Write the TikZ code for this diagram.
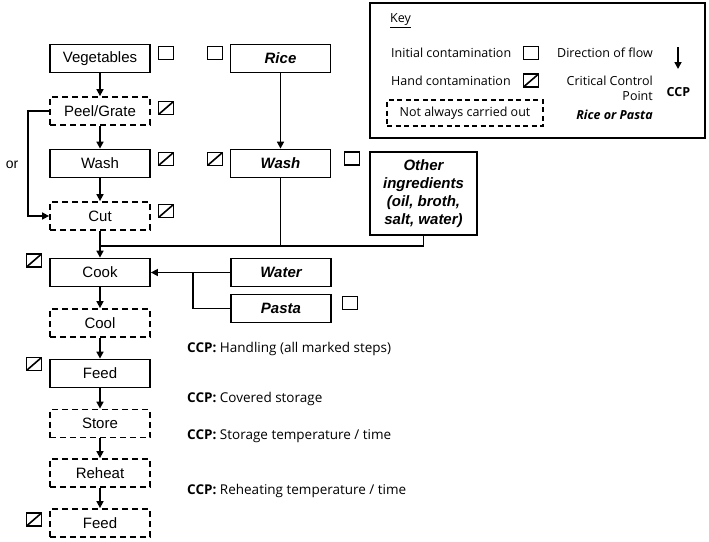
\documentclass[tikz,border=0pt]{standalone}
\usepackage{fontspec}
\setmainfont{Liberation Sans}
\newfontfamily\keyfont{Open Sans}
\usetikzlibrary{arrows.meta}
\tikzset{
  stepbox/.style={draw, line width=1.8pt, minimum width=100pt, minimum height=28pt, inner sep=0pt, font=\fontsize{15}{18}\selectfont},
  optbox/.style={stepbox, dash pattern=on 6pt off 4pt},
  ital/.style={font=\fontsize{15}{18}\selectfont\bfseries\itshape},
  initsq/.style={draw, line width=1.6pt, minimum width=15pt, minimum height=13pt, inner sep=0pt},
  handsq/.style={initsq, path picture={\draw[line width=1.6pt] (path picture bounding box.south west) -- (path picture bounding box.north east);}},
  arr/.style={line width=1.6pt, -{Triangle[length=7pt,width=7pt]}},
  ln/.style={line width=1.6pt},
  keytxt/.style={font=\keyfont\fontsize{12.5}{15}\selectfont, inner sep=0pt},
  ccptxt/.style={font=\keyfont\fontsize{13.5}{16}\selectfont, inner sep=0pt, anchor=west}
}
\begin{document}
\begin{tikzpicture}[x=1pt,y=-1pt]
\useasboundingbox (0,0) rectangle (709,541);
% left column
\node[stepbox] (veg) at (100,58.5) {Vegetables};
\node[optbox] (peel) at (100,111) {Peel/Grate};
\node[stepbox] (wash) at (100,163.5) {Wash};
\node[optbox] (cut) at (100,216) {Cut};
\node[stepbox] (cook) at (100,272.5) {Cook};
\node[optbox] (cool) at (100,323) {Cool};
\node[stepbox] (feed) at (100,373.5) {Feed};
\node[optbox] (store) at (100,423.5) {Store};
\node[optbox] (reheat) at (100,473) {Reheat};
\node[optbox] (feedb) at (100,523) {Feed};
% right column
\node[stepbox, ital] (rice) at (280.5,58.5) {Rice};
\node[stepbox, ital] (washr) at (280.5,163.5) {Wash};
\node[stepbox, ital] (water) at (281,272.5) {Water};
\node[stepbox, ital] (pasta) at (281,308.5) {Pasta};
\node[draw, line width=1.8pt, minimum width=107pt, minimum height=83pt, inner sep=0pt, align=center, ital] (other) at (423.5,193.5) {Other\\ingredients\\(oil, broth,\\salt, water)};
\node[inner sep=0pt, font=\fontsize{14}{16}\selectfont] (or) at (12,165) {or};
% squares
\node[initsq] (s1) at (166,53) {};
\node[initsq] (s2) at (215,53) {};
\node[handsq] (s3) at (166,108) {};
\node[handsq] (s4) at (166,159) {};
\node[handsq] (s5) at (215,159) {};
\node[initsq] (s6) at (352,158.5) {};
\node[handsq] (s7) at (166,211) {};
\node[initsq] (s8) at (350,303) {};
\node[handsq] (s9) at (34,260.5) {};
\node[handsq] (s10) at (34,364) {};
\node[handsq] (s11) at (34,519.5) {};
% connectors
\coordinate (j1) at (100,246);
\coordinate (j2) at (193,272.5);
\draw[arr] (veg) -- (peel);
\draw[arr] (peel) -- (wash);
\draw[arr] (wash) -- (cut);
\draw[arr] (cut) -- (cook);
\draw[arr] (cook) -- (cool);
\draw[arr] (cool) -- (feed);
\draw[arr] (feed) -- (store);
\draw[arr] (store) -- (reheat);
\draw[arr] (reheat) -- (feedb);
\draw[arr] (peel.west) -- ++(-21,0) |- (cut.west);
\draw[arr] (rice) -- (washr);
\draw[ln] (washr.south) -- (washr.south |- j1);
\draw[ln] (other.south) |- (j1);
\draw[arr] (water.west) -- (cook.east);
\draw[ln] (pasta.west) -| (j2);
% CCP texts
\node[ccptxt] (c1) at (187,348.5) {\textbf{CCP:} Handling (all marked steps)};
\node[ccptxt] (c2) at (187,398.5) {\textbf{CCP:} Covered storage};
\node[ccptxt] (c3) at (187,436.5) {\textbf{CCP:} Storage temperature / time};
\node[ccptxt] (c4) at (187,491) {\textbf{CCP:} Reheating temperature / time};
% key
\node[draw, line width=1.5pt, minimum width=335pt, minimum height=135pt, inner sep=0pt] (key) at (537.5,70.5) {};
\node[keytxt, anchor=west] (kt) at (390,20.5) {\underline{Key}};
\node[keytxt, anchor=west] (k1) at (391,53) {Initial contamination};
\node[initsq] (ks1) at (531,53) {};
\node[keytxt, anchor=west] (k2) at (391,80.5) {Hand contamination};
\node[handsq] (ks2) at (531,80.5) {};
\node[optbox, keytxt, minimum width=156pt, minimum height=26pt, line width=1.5pt, dash pattern=on 5pt off 3.5pt] (k3) at (465,113) {Not always carried out};
\node[keytxt, anchor=east] (k4) at (653,53) {Direction of flow};
\coordinate (ka1) at (678,47);
\coordinate (ka2) at (678,69);
\draw[arr] (ka1) -- (ka2);
\node[keytxt, anchor=east, align=right] (k5) at (653,88) {Critical Control\\Point};
\node[keytxt, anchor=center, font=\keyfont\fontsize{12.5}{15}\selectfont\bfseries] (k6) at (678.5,92) {CCP};
\node[keytxt, anchor=east, font=\keyfont\fontsize{12.5}{15}\selectfont\bfseries\itshape] (k7) at (653,115) {Rice or Pasta};
\end{tikzpicture}
\end{document}
